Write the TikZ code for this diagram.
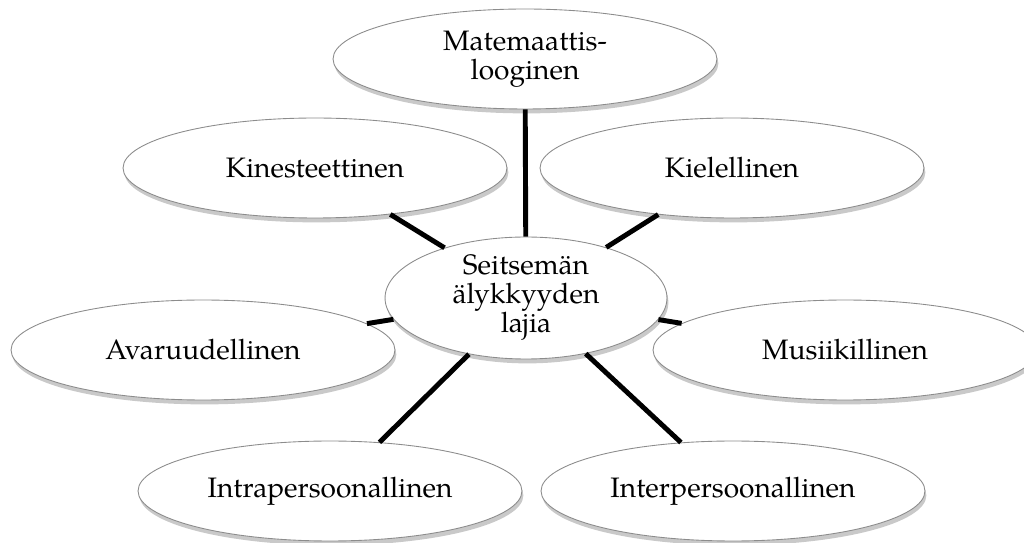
\documentclass[tikz,border=0pt]{standalone}
\usepackage{fontspec}
\setmainfont{TeX Gyre Pagella}
\usetikzlibrary{shapes.geometric,shadows}
\begin{document}
\begin{tikzpicture}[-, x=0.02cm, y=-0.02cm, main node/.style={ellipse, draw=black!45, line width=0.5pt, fill=white, minimum width=7.68cm, minimum height=2cm, inner sep=0pt, align=center, drop shadow={shadow xshift=0.8pt, shadow yshift=-2.5pt, opacity=0.3, fill=black!70}}]
        \tikzstyle{every node}=[font=\fontsize{16}{16.5}\selectfont]
        \useasboundingbox (0,0) rectangle (1024,543);

          \node[main node] (1) at (525,59) {Matemaattis-\\looginen};
          \node[main node] (2) at (315,168) {Kinesteettinen};
          \node[main node] (3) at (732,168) {Kielellinen};
          \node[main node] (4) at (203,350) {Avaruudellinen};
          \node[main node] (5) at (845,350) {Musiikillinen};
          \node[main node] (6) at (330,491) {Intrapersoonallinen};
          \node[main node] (7) at (733,491) {Interpersoonallinen};
          \node[main node, minimum width=5.64cm, minimum height=2.44cm] (0) at (526,298) {Seitsemän\\älykkyyden\\lajia};

          \path[line width=2.8pt]
            (0) edge (1)
            (0) edge (2)
            (0) edge (3)
            (0) edge (4)
            (0) edge (5)
            (0) edge (6)
            (0) edge (7);

\end{tikzpicture}
\end{document}
